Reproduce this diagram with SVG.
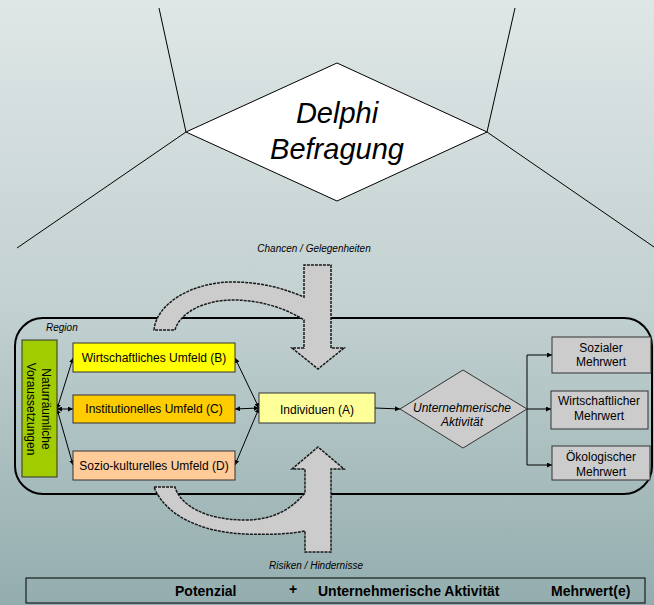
<svg xmlns="http://www.w3.org/2000/svg" width="654" height="605" viewBox="0 0 654 605">
<defs>
<linearGradient id="bg" x1="0" y1="0" x2="0" y2="1">
<stop offset="0" stop-color="#dfe6e6"/>
<stop offset="0.5" stop-color="#c3d1d1"/>
<stop offset="1" stop-color="#93adae"/>
</linearGradient>
<marker id="ah" viewBox="0 0 10 10" refX="10" refY="5" markerWidth="5" markerHeight="5" orient="auto-start-reverse" markerUnits="userSpaceOnUse">
<path d="M0,0 L10,5 L0,10 Z" fill="#000"/>
</marker>
<style>
.t{font-family:"Liberation Sans",Arial,sans-serif;fill:#000}
.box{stroke:#333;stroke-width:1}
.ln{stroke:#000;stroke-width:1;fill:none}
.big{fill:#cccccc;stroke:#1a1a1a;stroke-width:1.5;stroke-dasharray:3 1}
</style>
</defs>
<rect width="654" height="605" fill="url(#bg)"/>

<g id="delphi">
<line class="ln" x1="159" y1="8" x2="186" y2="132"/>
<line class="ln" x1="515" y1="8" x2="487" y2="132"/>
<line class="ln" x1="186" y1="132" x2="17" y2="248"/>
<line class="ln" x1="487" y1="132" x2="654" y2="247"/>
<polygon points="186,132 337,63 487,132 337,201" fill="#fff" stroke="#000" stroke-width="1"/>
<text class="t" x="337" y="123" font-size="29" font-style="italic" text-anchor="middle">Delphi</text>
<text class="t" x="337" y="159" font-size="29" font-style="italic" text-anchor="middle">Befragung</text>
</g>

<text class="t" x="314" y="252" font-size="10" font-style="italic" text-anchor="middle" fill="#222">Chancen / Gelegenheiten</text>

<g id="region">
<rect x="15" y="318" width="637" height="176" rx="28" fill="none" stroke="#000" stroke-width="2"/>
<text class="t" x="46" y="331" font-size="10" font-style="italic">Region</text>
</g>

<g id="arrow-top">
<path class="big" d="M154,330 C156,305 190,282 233,282 C262,282 285,289 304,297 L304,265 L331,265 L331,348 L344,348 L318,369 L292,348 L304,348 L304,320 C285,308 260,300 233,300 C205,300 180,312 175,330 Z"/>
</g>
<g id="arrow-bottom">
<path class="big" d="M154,487 L175,487 C180,505 205,520 245,520 C275,520 292,508 305,493 L305,469 L292,469 L318,447 L344,469 L331,469 L331,552 L305,552 L305,531 C290,534 270,535 245,534 C200,532 165,515 154,487 Z"/>
</g>

<g id="connectors">
<line class="ln" x1="57" y1="409" x2="73" y2="358" marker-start="url(#ah)" marker-end="url(#ah)"/>
<line class="ln" x1="57" y1="409" x2="73" y2="409" marker-start="url(#ah)" marker-end="url(#ah)"/>
<line class="ln" x1="57" y1="409" x2="73" y2="465" marker-start="url(#ah)" marker-end="url(#ah)"/>
<line class="ln" x1="259" y1="408" x2="235" y2="358" marker-start="url(#ah)" marker-end="url(#ah)"/>
<line class="ln" x1="259" y1="408" x2="235" y2="409" marker-start="url(#ah)" marker-end="url(#ah)"/>
<line class="ln" x1="259" y1="408" x2="235" y2="465" marker-start="url(#ah)" marker-end="url(#ah)"/>
<line class="ln" x1="375" y1="408" x2="400" y2="409" marker-end="url(#ah)"/>
<polyline class="ln" points="527,409 527,355 552,355" marker-end="url(#ah)"/>
<line class="ln" x1="527" y1="409" x2="551" y2="409" marker-end="url(#ah)"/>
<polyline class="ln" points="527,409 527,465 552,465" marker-end="url(#ah)"/>
</g>

<g id="natur">
<rect class="box" x="22" y="340" width="35" height="137" fill="#a0cc00"/>
<g transform="rotate(90)">
<text class="t" x="409" y="-42" font-size="12" text-anchor="middle">Naturräumliche</text>
<text class="t" x="409" y="-27" font-size="12" text-anchor="middle">Voraussetzungen</text>
</g>
</g>

<g id="B">
<rect class="box" x="73" y="343" width="162" height="29" fill="#ffff00"/>
<text class="t" x="154" y="362" font-size="12" text-anchor="middle">Wirtschaftliches Umfeld (B)</text>
</g>
<g id="C">
<rect class="box" x="73" y="395" width="162" height="28" fill="#ffcc00"/>
<text class="t" x="154" y="413" font-size="12" text-anchor="middle">Institutionelles Umfeld (C)</text>
</g>
<g id="D">
<rect class="box" x="73" y="451" width="162" height="29" fill="#ffcc99"/>
<text class="t" x="154" y="470" font-size="12" text-anchor="middle">Sozio-kulturelles Umfeld (D)</text>
</g>
<g id="A">
<rect class="box" x="259" y="393" width="116" height="30" fill="#ffff99"/>
<text class="t" x="317" y="414" font-size="12" text-anchor="middle">Individuen (A)</text>
</g>
<g id="aktivitaet">
<polygon class="box" points="400,409 463,370 527,409 463,448" fill="#cccccc"/>
<text class="t" x="462" y="412" font-size="12" font-style="italic" text-anchor="middle">Unternehmerische</text>
<text class="t" x="462" y="426" font-size="12" font-style="italic" text-anchor="middle">Aktivität</text>
</g>
<g id="sozial">
<rect class="box" x="552" y="337" width="99" height="36" fill="#cccccc"/>
<text class="t" x="601" y="352" font-size="12" text-anchor="middle">Sozialer</text>
<text class="t" x="601" y="366" font-size="12" text-anchor="middle">Mehrwert</text>
</g>
<g id="wirtschaft">
<rect class="box" x="551" y="391" width="97" height="38" fill="#cccccc"/>
<text class="t" x="599" y="405" font-size="12" text-anchor="middle">Wirtschaftlicher</text>
<text class="t" x="599" y="420" font-size="12" text-anchor="middle">Mehrwert</text>
</g>
<g id="oeko">
<rect class="box" x="552" y="446" width="98" height="34" fill="#cccccc"/>
<text class="t" x="601" y="461" font-size="12" text-anchor="middle">Ökologischer</text>
<text class="t" x="601" y="476" font-size="12" text-anchor="middle">Mehrwert</text>
</g>

<text class="t" x="316" y="569" font-size="10" font-style="italic" text-anchor="middle" fill="#222">Risiken / Hindernisse</text>

<g id="bar">
<rect x="26" y="578" width="619" height="25" fill="none" stroke="#000" stroke-width="1"/>
<text class="t" x="175" y="596" font-size="14" font-weight="bold">Potenzial</text>
<text class="t" x="293" y="594" font-size="14" font-weight="bold" text-anchor="middle">+</text>
<text class="t" x="318" y="596" font-size="14" font-weight="bold">Unternehmerische Aktivität</text>
<text class="t" x="551" y="596" font-size="14" font-weight="bold">Mehrwert(e)</text>
</g>
</svg>
